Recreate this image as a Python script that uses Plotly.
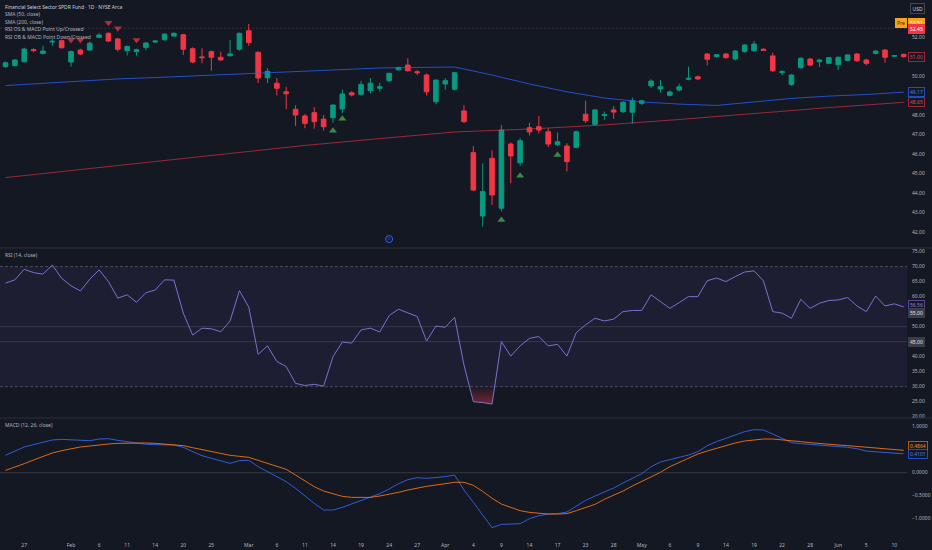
import numpy as np
import pandas as pd
import plotly.graph_objects as go
from plotly.subplots import make_subplots

# ---------------- data ----------------
holidays = ["2025-02-17", "2025-04-18", "2025-05-26"]
dates = [d.strftime("%Y-%m-%d") for d in pd.bdate_range("2025-01-23", "2025-06-11")
         if d.strftime("%Y-%m-%d") not in holidays]

opens = [50.48, 50.53, 50.73, 51.36, 51.16, 51.74, 51.81, 50.72, 51.33, 51.33,
         51.98, 52.19, 51.90, 51.30, 51.25, 51.47, 51.74, 51.86, 52.05, 52.12,
         51.40, 50.98, 51.25, 50.96, 51.04, 51.37, 52.32, 51.22, 49.91, 49.63,
         49.19, 48.29, 47.95, 48.12, 47.79, 47.86, 48.31, 49.14, 49.06, 49.25,
         49.37, 49.76, 50.32, 50.56, 50.22, 50.05, 48.68, 49.59, 49.32, 48.21,
         46.07, 42.82, 45.78, 43.22, 46.51, 45.55, 47.35, 47.40, 47.14, 46.48,
         46.41, 46.34, 48.04, 47.52, 47.98, 48.26, 48.17, 48.14, 48.60, 49.49,
         49.33, 49.01, 49.28, 49.83, 49.96, 51.13, 50.99, 51.13, 50.87, 51.25,
         51.30, 51.37, 51.03, 50.17, 49.57, 50.43, 50.87, 50.73, 50.65, 50.58,
         50.80, 51.13, 50.82, 51.16, 51.33, 51.01, 51.11]
highs = [50.74, 50.86, 51.45, 51.42, 51.55, 51.90, 51.86, 51.30, 51.40, 51.76,
         52.20, 52.23, 51.95, 51.55, 51.40, 51.72, 51.84, 52.18, 52.23, 52.16,
         51.47, 51.42, 51.30, 51.25, 51.85, 52.22, 52.67, 51.25, 50.40, 49.90,
         49.45, 48.50, 48.05, 48.40, 48.00, 48.55, 49.30, 49.22, 49.75, 49.90,
         49.65, 50.16, 50.48, 50.91, 50.30, 50.13, 49.82, 49.90, 50.20, 48.51,
         46.41, 45.52, 46.19, 47.49, 46.60, 46.80, 47.60, 47.95, 47.30, 47.10,
         46.55, 47.20, 48.73, 48.30, 48.18, 48.45, 48.70, 48.90, 48.78, 49.83,
         49.80, 49.25, 49.60, 50.48, 50.02, 51.17, 51.12, 51.18, 51.33, 51.63,
         51.80, 51.42, 51.20, 50.30, 50.08, 50.95, 50.92, 50.88, 50.98, 51.00,
         51.12, 51.17, 50.88, 51.32, 51.38, 51.08, 51.15]
lows = [50.42, 50.50, 50.70, 51.22, 51.10, 51.55, 51.40, 50.48, 51.08, 51.30,
        51.94, 51.75, 51.25, 51.05, 51.05, 51.32, 51.70, 51.82, 52.00, 51.08,
        50.65, 50.65, 50.27, 50.80, 51.00, 51.30, 51.55, 49.63, 49.63, 49.00,
        48.29, 47.44, 47.32, 47.30, 47.20, 47.60, 48.10, 48.95, 49.00, 49.10,
        49.20, 49.70, 50.28, 50.22, 50.05, 49.00, 48.55, 49.30, 49.25, 47.60,
        44.10, 42.27, 43.39, 43.05, 44.50, 45.40, 46.95, 47.05, 46.35, 46.40,
        45.10, 46.30, 47.60, 47.45, 47.75, 47.80, 48.10, 47.55, 48.52, 49.38,
        49.15, 48.95, 49.20, 49.78, 49.80, 50.55, 50.94, 50.88, 50.80, 51.20,
        51.25, 51.28, 50.20, 50.05, 49.50, 50.38, 50.50, 50.45, 50.60, 50.30,
        50.75, 50.72, 50.55, 51.10, 50.68, 50.98, 50.95]
closes = [50.68, 50.82, 51.38, 51.30, 51.28, 51.78, 51.45, 51.25, 51.13, 51.68,
          52.10, 51.79, 51.37, 51.52, 51.35, 51.69, 51.79, 52.15, 52.19, 51.37,
          50.72, 50.94, 50.96, 50.82, 51.13, 52.19, 51.71, 49.90, 50.24, 49.37,
          49.09, 48.00, 47.57, 47.66, 47.40, 48.51, 49.08, 49.03, 49.57, 49.63,
          49.45, 50.14, 50.43, 50.27, 50.17, 49.19, 49.79, 49.76, 50.17, 47.66,
          44.15, 44.07, 43.90, 47.23, 45.90, 46.68, 47.13, 47.23, 46.51, 46.63,
          45.61, 47.14, 47.71, 48.26, 48.02, 48.15, 48.65, 48.73, 48.73, 49.74,
          49.45, 49.18, 49.45, 49.88, 49.85, 50.86, 51.09, 50.94, 51.28, 51.59,
          51.64, 51.32, 50.27, 50.22, 50.05, 50.91, 50.56, 50.82, 50.94, 50.96,
          51.08, 50.78, 50.65, 51.28, 50.96, 51.05, 50.99]

# SMA values read at every 4th (50) / 8th (200) session
sma50_dates = dates[::4]
sma50 = [49.51, 49.62, 49.74, 49.85, 49.92, 50.00, 50.10, 50.18, 50.26, 50.31,
         50.41, 50.44, 50.46, 50.05, 49.59, 49.19, 48.87, 48.67, 48.56, 48.49,
         48.67, 48.85, 48.97, 49.05, 49.17]
sma200_dates = dates[::8]
sma200 = [44.79, 45.21, 45.62, 46.03, 46.44, 46.79, 47.13, 47.28, 47.49, 47.77,
          48.08, 48.38, 48.65]

rsi = [64.5, 65.6, 69.1, 68.0, 67.5, 70.5, 66.1, 63.6, 61.9, 65.8,
       68.9, 65.0, 59.5, 60.6, 58.1, 61.3, 62.2, 65.6, 65.5, 54.5,
       47.2, 49.5, 49.3, 48.3, 51.9, 62.0, 56.5, 40.8, 43.6, 38.4,
       36.7, 31.1, 30.4, 30.8, 30.2, 40.0, 44.9, 44.5, 48.9, 49.5,
       48.2, 53.7, 55.8, 54.5, 53.4, 45.2, 50.2, 49.8, 53.1, 37.2,
       25.0, 24.7, 24.2, 45.0, 40.2, 43.6, 46.1, 46.7, 43.6, 44.1,
       40.2, 48.0, 50.6, 52.8, 51.9, 52.5, 55.0, 55.4, 55.4, 60.6,
       58.3, 56.1, 58.0, 60.0, 60.0, 65.3, 66.2, 65.0, 66.7, 68.2,
       68.6, 65.3, 55.0, 54.5, 52.8, 59.1, 56.1, 57.8, 58.7, 58.9,
       59.7, 56.9, 55.0, 60.2, 56.9, 57.6, 56.56]

macd = [0.378, 0.472, 0.559, 0.610, 0.667, 0.711, 0.725, 0.718, 0.696, 0.696,
        0.732, 0.740, 0.703, 0.675, 0.646, 0.617, 0.609, 0.609, 0.602, 0.551,
        0.464, 0.370, 0.312, 0.254, 0.204, 0.262, 0.269, 0.131, 0.022, -0.086,
        -0.195, -0.340, -0.506, -0.666, -0.811, -0.811, -0.753, -0.680, -0.608, -0.528,
        -0.456, -0.354, -0.239, -0.151, -0.108, -0.122, -0.108, -0.086, -0.050, -0.376,
        -0.644, -0.920, -1.195, -1.123, -1.123, -1.108, -0.999, -0.934, -0.898, -0.890,
        -0.854, -0.724, -0.601, -0.507, -0.420, -0.333, -0.224, -0.122, -0.021, 0.131,
        0.233, 0.283, 0.334, 0.384, 0.457, 0.588, 0.675, 0.747, 0.820, 0.892,
        0.935, 0.928, 0.841, 0.747, 0.653, 0.631, 0.617, 0.602, 0.588, 0.573,
        0.551, 0.522, 0.470, 0.455, 0.440, 0.425, 0.4101]
signal = [0.051, 0.117, 0.196, 0.276, 0.356, 0.428, 0.479, 0.522, 0.559, 0.580,
          0.609, 0.624, 0.638, 0.646, 0.646, 0.646, 0.638, 0.624, 0.617, 0.588,
          0.544, 0.501, 0.450, 0.406, 0.378, 0.356, 0.334, 0.269, 0.204, 0.138,
          0.073, -0.050, -0.173, -0.304, -0.398, -0.463, -0.514, -0.536, -0.543, -0.536,
          -0.507, -0.470, -0.427, -0.376, -0.333, -0.296, -0.268, -0.246, -0.209, -0.209,
          -0.275, -0.405, -0.557, -0.681, -0.760, -0.825, -0.862, -0.883, -0.898, -0.898,
          -0.890, -0.825, -0.760, -0.688, -0.579, -0.492, -0.398, -0.289, -0.195, -0.093,
          0.008, 0.131, 0.225, 0.320, 0.406, 0.472, 0.530, 0.595, 0.646, 0.689,
          0.718, 0.732, 0.732, 0.718, 0.696, 0.675, 0.653, 0.631, 0.617, 0.602,
          0.588, 0.573, 0.551, 0.535, 0.518, 0.502, 0.4864]

up_dates = ["2025-03-14", "2025-03-17", "2025-04-09", "2025-04-11", "2025-04-17"]
up_prices = [47.19, 47.81, 42.62, 44.89, 45.95]
down_dates = ["2025-02-03", "2025-02-04", "2025-02-07", "2025-02-10", "2025-02-12"]
down_prices = [51.85, 51.85, 52.73, 52.45, 51.85]
dividend_date = "2025-03-24"
dividend_level = 41.64

tick_dates = ["2025-01-27", "2025-02-03", "2025-02-06", "2025-02-11", "2025-02-14", "2025-02-20",
              "2025-02-25", "2025-03-03", "2025-03-06", "2025-03-11", "2025-03-14", "2025-03-19",
              "2025-03-24", "2025-03-27", "2025-04-01", "2025-04-04", "2025-04-09", "2025-04-14",
              "2025-04-17", "2025-04-23", "2025-04-28", "2025-05-01", "2025-05-06", "2025-05-09",
              "2025-05-14", "2025-05-19", "2025-05-22", "2025-05-28", "2025-06-02", "2025-06-05",
              "2025-06-10"]
tick_labels = ["27", "Feb", "6", "11", "14", "20", "25", "Mar", "6", "11", "14", "19", "24", "27",
               "Apr", "4", "9", "14", "17", "23", "28", "May", "6", "9", "14", "19", "22", "28",
               "Jun", "5", "10"]

last_price = 51.00
pre_price = 52.51
prev_line = 52.45

# ---------------- helpers ----------------
pos = {d: k for k, d in enumerate(dates)}
xi = list(range(len(dates)))
BG = "#141823"
FONT = "Noto Sans"
TXT = "#b2b5be"

fig = make_subplots(rows=3, cols=1, shared_xaxes=True, vertical_spacing=0)

fig.add_trace(go.Candlestick(
    x=xi, open=opens, high=highs, low=lows, close=closes,
    increasing=dict(line=dict(color="#089981", width=1), fillcolor="#089981"),
    decreasing=dict(line=dict(color="#f23645", width=1), fillcolor="#f23645"),
    whiskerwidth=0, hoverinfo="skip"), row=1, col=1)

fig.add_trace(go.Scatter(x=[pos[d] for d in sma50_dates], y=sma50, mode="lines",
                         line=dict(color="rgba(41,98,255,0.75)", width=1)), row=1, col=1)
fig.add_trace(go.Scatter(x=[pos[d] for d in sma200_dates], y=sma200, mode="lines",
                         line=dict(color="rgba(242,54,69,0.6)", width=1)), row=1, col=1)

fig.add_trace(go.Scatter(x=[pos[d] for d in up_dates], y=up_prices, mode="markers",
                         marker=dict(symbol="triangle-up", size=7, color="rgba(76,175,80,0.75)",
                                     line=dict(width=0))), row=1, col=1)
fig.add_trace(go.Scatter(x=[pos[d] for d in down_dates], y=down_prices, mode="markers",
                         marker=dict(symbol="triangle-down", size=7, color="rgba(242,54,69,0.7)",
                                     line=dict(width=0))), row=1, col=1)
fig.add_trace(go.Scatter(x=[pos[dividend_date]], y=[dividend_level], mode="markers+text",
                         text=["D"], textposition="middle center",
                         textfont=dict(size=4, color="#2962ff", family=FONT),
                         marker=dict(symbol="circle-open", size=7, color="#2962ff",
                                     line=dict(width=1))), row=1, col=1)

# RSI oversold fill (below 30)
r = np.array(rsi)
fx, fy = [], []
for k in range(len(r) - 1):
    a, b = r[k], r[k + 1]
    if a < 30:
        fx.append(k); fy.append(a)
    if (a < 30) != (b < 30):
        t = (30 - a) / (b - a)
        fx.append(k + t); fy.append(30.0)
if fx:
    fig.add_trace(go.Scatter(x=fx, y=fy, mode="lines", fill="toself", line=dict(width=0),
                             fillgradient=dict(type="vertical", start=22, stop=30,
                                               colorscale=[[0, "rgba(242,54,69,0.6)"],
                                                           [1, "rgba(242,54,69,0.03)"]])),
                  row=2, col=1)
fig.add_trace(go.Scatter(x=xi, y=rsi, mode="lines", line=dict(color="#7e6fd0", width=1)),
              row=2, col=1)

fig.add_trace(go.Scatter(x=xi, y=macd, mode="lines", line=dict(color="rgba(52,100,235,0.9)", width=1)),
              row=3, col=1)
fig.add_trace(go.Scatter(x=xi, y=signal, mode="lines", line=dict(color="rgba(255,120,20,0.85)", width=1)),
              row=3, col=1)

# ---------------- layout ----------------
H_PLOT = 535.0
d1 = 1 - 248 / H_PLOT
d2 = 1 - 418 / H_PLOT
axfont = dict(family=FONT, size=5, color=TXT)

fig.update_layout(
    width=932, height=550, margin=dict(l=0, r=25, t=0, b=15),
    paper_bgcolor=BG, plot_bgcolor=BG, showlegend=False, hovermode=False,
    font=dict(family=FONT, size=5, color=TXT),
    yaxis=dict(domain=[d1, 1], range=[41.18, 53.897], side="right",
               tickvals=[42, 43, 44, 45, 46, 47, 48, 50, 52], tickformat=".2f",
               showgrid=False, zeroline=False, ticks="outside", ticklen=3,
               tickcolor="rgba(0,0,0,0)", tickfont=axfont),
    yaxis2=dict(domain=[d2, d1], range=[19.57, 76.2], side="right",
                tickvals=[20, 25, 30, 35, 40, 50, 60, 65, 70, 75], tickformat=".2f",
                showgrid=False, zeroline=False, ticks="outside", ticklen=3,
                tickcolor="rgba(0,0,0,0)", tickfont=axfont),
    yaxis3=dict(domain=[0, d2], range=[-1.354, 1.189], side="right",
                tickvals=[-1, -0.5, 0, 1], tickformat=".4f",
                showgrid=False, zeroline=False, ticks="outside", ticklen=3,
                tickcolor="rgba(0,0,0,0)", tickfont=axfont),
)
fig.update_xaxes(range=[-0.59, 96.35], showgrid=False, zeroline=False,
                 rangeslider_visible=False, showticklabels=False)
fig.update_xaxes(showticklabels=True, tickvals=[pos[d] for d in tick_dates], ticktext=tick_labels,
                 ticks="outside", ticklen=5, tickcolor="rgba(0,0,0,0)", tickfont=axfont,
                 row=3, col=1)

shapes = []
# RSI band
shapes.append(dict(type="rect", xref="x2 domain", x0=0, x1=1, yref="y2", y0=30, y1=70,
                   fillcolor="rgba(126,87,194,0.1)", line=dict(width=0), layer="below"))
for lvl in (70, 30):
    shapes.append(dict(type="line", xref="x2 domain", x0=0, x1=1, yref="y2", y0=lvl, y1=lvl,
                       line=dict(color="rgba(120,123,134,0.5)", width=1, dash="3px,2px")))
for lvl in (50, 45):
    shapes.append(dict(type="line", xref="x2 domain", x0=0, x1=1, yref="y2", y0=lvl, y1=lvl,
                       line=dict(color="rgba(120,123,134,0.28)", width=1)))
shapes.append(dict(type="line", xref="x3 domain", x0=0, x1=1, yref="y3", y0=0, y1=0,
                   line=dict(color="rgba(120,123,134,0.3)", width=1)))
shapes.append(dict(type="line", xref="x domain", x0=0, x1=1, yref="y", y0=prev_line, y1=prev_line,
                   line=dict(color="rgba(190,120,120,0.25)", width=1, dash="2px,2px")))
# pane separators
for yy in (d1, d2):
    shapes.append(dict(type="line", xref="paper", x0=0, x1=1.03, yref="paper", y0=yy, y1=yy,
                       line=dict(color="#2a2e39", width=1)))
fig.update_layout(shapes=shapes)

ann = []
legend_lines = [("Financial Select Sector SPDR Fund · 1D · NYSE Arca", "#d1d4dc"),
                ("SMA (50, close)", TXT), ("SMA (200, close)", TXT),
                ("RSI OS & MACD Point Up/Crossed", TXT), ("RSI OB & MACD Point Down/Crossed", TXT)]
for k, (t, c) in enumerate(legend_lines):
    ann.append(dict(text=t, xref="paper", x=0.003, xanchor="left", yref="paper",
                    y=1, yanchor="middle", yshift=-(6.7 + 7.5 * k), showarrow=False,
                    font=dict(family=FONT, size=5, color=c)))
ann.append(dict(text="RSI (14, close)", xref="paper", x=0.003, xanchor="left", yref="paper",
                y=d1, yanchor="middle", yshift=-7, showarrow=False,
                font=dict(family=FONT, size=5, color=TXT)))
ann.append(dict(text="MACD (12, 26, close)", xref="paper", x=0.003, xanchor="left", yref="paper",
                y=d2, yanchor="middle", yshift=-7, showarrow=False,
                font=dict(family=FONT, size=5, color=TXT)))


def box(yref, y, text, bg, border, color, yshift=0, xanchor="left", xshift=1):
    ann.append(dict(text=text, xref="paper", x=1, xanchor=xanchor, xshift=xshift,
                    yref=yref, y=y, yanchor="middle", yshift=yshift, showarrow=False,
                    bgcolor=bg, bordercolor=border, borderwidth=1, borderpad=1,
                    font=dict(family=FONT, size=5, color=color)))


box("y", pre_price, f"{pre_price:.2f}", "#f7a21b", "#f7a21b", "#ffffff", yshift=4.5)
box("y", pre_price, "Pre", "#f7a21b", "#f7a21b", "#3a2a05", yshift=4.5, xanchor="right", xshift=0)
box("y", prev_line, f"{prev_line:.2f}", "#f23645", "#f23645", "#ffffff", yshift=-1)
box("y", last_price, f"{last_price:.2f}", BG, "rgba(242,54,69,0.6)", "#d5525d")
box("y", sma50[-1], f"{sma50[-1]:.2f}", BG, "rgba(41,98,255,0.7)", "#4a7bff")
box("y", sma200[-1], f"{sma200[-1]:.2f}", BG, "rgba(242,54,69,0.6)", "#d5525d")
box("y2", rsi[-1], f"{rsi[-1]:.2f}", BG, "rgba(126,87,194,0.7)", "#9b86d6", yshift=1.5)
box("y2", 55, "55.00", "#3a3e4a", "#3a3e4a", "#e0e3eb", yshift=-1)
box("y2", 45, "45.00", "#3a3e4a", "#3a3e4a", "#e0e3eb")
box("y3", signal[-1], f"{signal[-1]:.4f}", BG, "rgba(255,109,0,0.7)", "#ff8a2a", yshift=4.5)
box("y3", macd[-1], f"{macd[-1]:.4f}", BG, "rgba(41,98,255,0.7)", "#4a7bff")
ann.append(dict(text="USD", xref="paper", x=1, xanchor="left", xshift=3, yref="paper", y=1,
                yanchor="top", yshift=-3, showarrow=False, bgcolor=BG, bordercolor="#434651",
                borderwidth=1, borderpad=1.5, font=dict(family=FONT, size=5, color="#d1d4dc")))
fig.update_layout(annotations=ann)

fig.write_html("out.html", config={"displayModeBar": False},
               post_script="document.body.style.margin='0';document.body.style.background='#141823';")
